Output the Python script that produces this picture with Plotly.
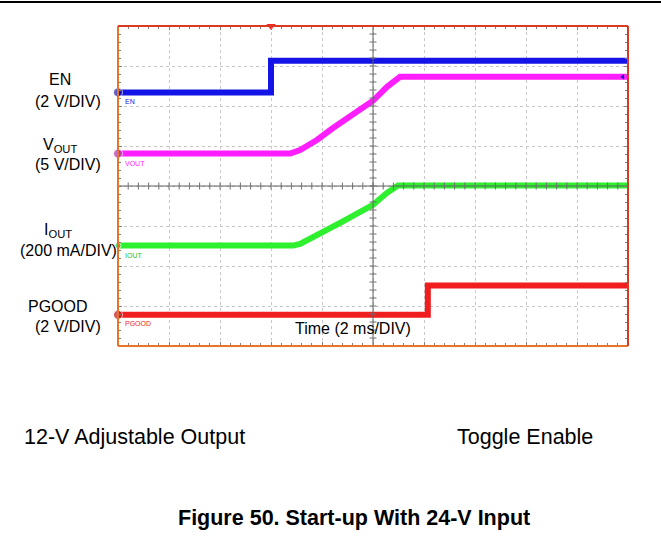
import plotly.graph_objects as go

# ---- data (time in ms, amplitude in scope divisions, 0 = bottom of screen) ----
en_t = [0.0, 6.0, 6.0, 20.0]
en_v = [6.34, 6.34, 7.13, 7.13]

vout_t = [0.0, 6.75, 7.14, 7.80, 8.43, 9.10, 10.0, 10.55, 11.06, 20.0]
vout_v = [4.81, 4.81, 4.90, 5.15, 5.45, 5.73, 6.13, 6.48, 6.73, 6.73]

iout_t = [0.0, 6.86, 7.14, 7.92, 8.71, 10.0, 10.55, 10.98, 20.0]
iout_v = [2.51, 2.51, 2.55, 2.83, 3.08, 3.53, 3.83, 4.01, 4.01]

pg_t = [0.0, 12.15, 12.15, 20.0]
pg_v = [0.78, 0.78, 1.51, 1.51]

channels = ["EN", "VOUT", "IOUT", "PGOOD"]
colors = ["#1414e6", "#ff1eff", "#2ef02e", "#f01e1e"]
marker_colors = ["#1a1aa8", "#b030b0", "#20c020", "#c81010"]

X0, X1 = 0.0, 20.0      # 10 div x 2 ms
Y0, Y1 = 0.0, 8.0       # 8 div

# plot area in pixels
L, R, T, B = 118, 628, 26, 346
W, H = 661, 539


def px(x):
    return (x - L) / (R - L)


def py(y):
    return (B - y) / (B - T)


fig = go.Figure()

series = [(en_t, en_v), (vout_t, vout_v), (iout_t, iout_v), (pg_t, pg_v)]
for (t, v), name, c in zip(series, channels, colors):
    fig.add_trace(go.Scatter(x=t, y=v, mode="lines", name=name,
                             line=dict(color=c, width=6), showlegend=False,
                             hoverinfo="skip"))

# center graticule with tick marks
cx = [X0 + i * 0.4 for i in range(51)]
cy = [Y0 + i * 0.2 for i in range(41)]
fig.add_trace(go.Scatter(x=[X0, X1], y=[4, 4], mode="lines",
                         line=dict(color="#606060", width=1), showlegend=False, hoverinfo="skip"))
fig.add_trace(go.Scatter(x=[10, 10], y=[Y0, Y1], mode="lines",
                         line=dict(color="#606060", width=1), showlegend=False, hoverinfo="skip"))
fig.add_trace(go.Scatter(x=cx, y=[4] * len(cx), mode="markers",
                         marker=dict(symbol="line-ns-open", size=5, color="#707070", line=dict(width=1, color="#707070")),
                         showlegend=False, hoverinfo="skip"))
fig.add_trace(go.Scatter(x=[10] * len(cy), y=cy, mode="markers",
                         marker=dict(symbol="line-ew-open", size=5, color="#707070", line=dict(width=1, color="#707070")),
                         showlegend=False, hoverinfo="skip"))

# channel reference markers on the left edge
fig.add_trace(go.Scatter(x=[X0] * 4, y=[en_v[0], vout_v[0], iout_v[0], pg_v[0]], mode="markers",
                         marker=dict(size=[9, 9, 6, 9], color=marker_colors),
                         cliponaxis=False, showlegend=False, hoverinfo="skip"))
# trigger marker at the top and small end marker at right
fig.add_trace(go.Scatter(x=[en_t[1]], y=[Y1], mode="markers",
                         marker=dict(symbol="triangle-down", size=8, color="#ff2020"),
                         cliponaxis=False, showlegend=False, hoverinfo="skip"))
fig.add_trace(go.Scatter(x=[X1 - 0.2], y=[vout_v[-1]], mode="markers",
                         marker=dict(symbol="triangle-left", size=5, color="#2020c0"),
                         cliponaxis=False, showlegend=False, hoverinfo="skip"))

axis_common = dict(showticklabels=False, zeroline=False, showline=False,
                   ticks="inside", ticklen=4, tickcolor="#808080",
                   mirror="ticks", showgrid=True, griddash="dot",
                   gridcolor="#c8c8c8", gridwidth=1, fixedrange=True)
fig.update_xaxes(range=[X0, X1], dtick=2, tick0=0,
                 minor=dict(dtick=0.4, ticks="inside", ticklen=3, tickcolor="#808080", showgrid=False),
                 **axis_common)
fig.update_yaxes(range=[Y0, Y1], dtick=1, tick0=0,
                 minor=dict(dtick=0.2, ticks="inside", ticklen=3, tickcolor="#808080", showgrid=False),
                 **axis_common)

shapes = [
    # screen border
    dict(type="line", xref="paper", yref="paper", x0=0, x1=0, y0=0, y1=1, line=dict(color="#e8742a", width=2)),
    dict(type="line", xref="paper", yref="paper", x0=0, x1=1, y0=0, y1=0, line=dict(color="#e8742a", width=2)),
    dict(type="line", xref="paper", yref="paper", x0=0, x1=1, y0=1, y1=1, line=dict(color="#d83a22", width=2)),
    dict(type="line", xref="paper", yref="paper", x0=1, x1=1, y0=0, y1=1, line=dict(color="#d83a22", width=2)),
    # page rule at top
    dict(type="line", xref="paper", yref="paper", x0=px(0), x1=px(W), y0=py(2), y1=py(2),
         line=dict(color="#000000", width=2)),
]

FONT = "Liberation Sans, Arial, sans-serif"


def ann(text, x, y, size=16, xanchor="center", color="#000000", bold=False):
    if bold:
        text = "<b>" + text + "</b>"
    return dict(text=text, x=px(x), y=py(y), xref="paper", yref="paper",
                xanchor=xanchor, yanchor="middle", showarrow=False,
                font=dict(family=FONT, size=size, color=color))


annotations = [
    ann("EN", 60, 79),
    ann("(2 V/DIV)", 68, 101),
    ann("V<sub>OUT</sub>", 60, 145),
    ann("(5 V/DIV)", 68, 164),
    ann("I<sub>OUT</sub>", 58, 230),
    ann("(200 mA/DIV)", 68, 250),
    ann("PGOOD", 58, 306),
    ann("(2 V/DIV)", 68, 326),
    ann("Time (2 ms/DIV)", 353, 328),
    ann("12-V Adjustable Output", 22, 437, size=21.5, xanchor="left"),
    ann("Toggle Enable", 455, 437, size=21.5, xanchor="left"),
    ann("Figure 50. Start-up With 24-V Input", 354, 518, size=21.5, bold=True),
    # tiny channel tags
    ann("EN", 123, 101, size=7, xanchor="left", color=colors[0]),
    ann("VOUT", 123, 163, size=7, xanchor="left", color=colors[1]),
    ann("IOUT", 123, 255, size=7, xanchor="left", color="#20c020"),
    ann("PGOOD", 123, 323, size=7, xanchor="left", color=colors[3]),
]

fig.update_layout(width=W, height=H,
                  margin=dict(l=L, r=W - R, t=T, b=H - B),
                  paper_bgcolor="white", plot_bgcolor="white",
                  shapes=shapes, annotations=annotations,
                  font=dict(family=FONT))

fig.write_html("out.html",
               config={"displayModeBar": False, "staticPlot": True},
               post_script="document.body.style.margin='0';document.body.style.overflow='hidden';")
